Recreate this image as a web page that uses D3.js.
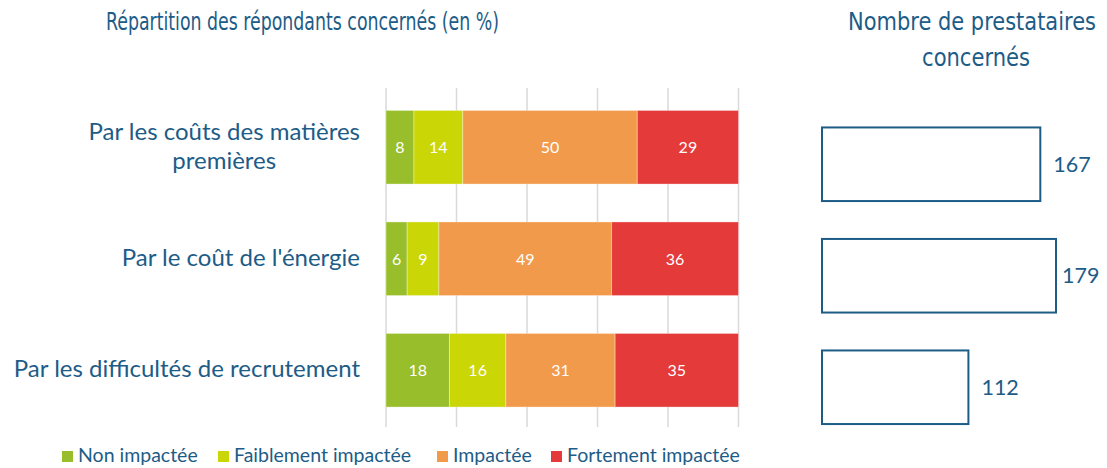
<!DOCTYPE html>
<html>
<head>
<meta charset="utf-8">
<script src="https://cdn.jsdelivr.net/npm/d3@7"></script>
<style>
  body { margin: 0; background: #fff; }
  svg { display: block; }
  .title { font-family: "DejaVu Sans", sans-serif; font-stretch: condensed; fill: #1d5c87; }
  .lbl { font-family: Lato, "Open Sans", sans-serif; fill: #1d5c87; }
</style>
</head>
<body>
<div id="chart"></div>
<script>
// categories, one array of lines each
var categories = [
	["Par les coûts des matières", "premières"],
	["Par le coût de l'énergie"],
	["Par les difficultés de recrutement"]
];
var seriesNames = ["Non impactée", "Faiblement impactée", "Impactée", "Fortement impactée"];
var nonImpactee = [8, 6, 18];
var faiblement = [14, 9, 16];
var impactee = [50, 49, 31];
var fortement = [29, 36, 35];
var prestataires = [167, 179, 112];
var xTicks = [0, 0.2, 0.4, 0.6, 0.8, 1];

var colors = ["#98be2b", "#cbd606", "#f29a4b", "#e53a3a"],
	textColor = "#1d5c87";

var width = 1107,
	height = 468,
	margin = {top: 88, bottom: 426, left: 386, right: 738.5};

var rows = categories.map(function(c, i) {
	return {cat: i, s0: nonImpactee[i], s1: faiblement[i], s2: impactee[i], s3: fortement[i]};
});

var stack = d3.stack()
	.keys(["s0", "s1", "s2", "s3"])
	.offset(d3.stackOffsetExpand);
var layers = stack(rows);

var xScale = d3.scaleLinear().domain([0, 1]).range([margin.left, margin.right]),
	yScale = d3.scaleBand().domain(d3.range(categories.length)).range([91.5, 426]).paddingInner(0.34).paddingOuter(0.17);

var xScale2 = d3.scaleLinear().domain([0, 179]).range([822, 1056]);

var svg = d3.select("#chart").append("svg")
	.attr("width", width)
	.attr("height", height);

// titles
var titles = [
	{t: "Répartition des répondants concernés (en %)", x: 302.5, y: 30, w: 393},
	{t: "Nombre de prestataires", x: 972, y: 30, w: 248},
	{t: "concernés", x: 976, y: 66, w: 108}
];
svg.append("g")
	.selectAll("text")
	.data(titles)
	.enter().append("text")
	.attr("class", "title")
	.attr("text-anchor", "middle")
	.style("font-size", "25.5px")
	.text(function(d) { return d.t; })
	.each(function(d) {
		// squeeze horizontally to the width of the condensed original font
		var sx = Math.min(1, d.w / this.getComputedTextLength());
		d3.select(this).attr("transform", "translate(" + d.x + "," + d.y + ") scale(" + sx + ",1)");
	});

// gridlines
svg.append("g")
	.selectAll("line")
	.data(xTicks)
	.enter().append("line")
	.attr("x1", function(d) { return xScale(d); })
	.attr("x2", function(d) { return xScale(d); })
	.attr("y1", 88)
	.attr("y2", 427)
	.attr("stroke", "#d9d9d9")
	.attr("stroke-width", 1.5);

// stacked bars
var layer = svg.append("g")
	.selectAll("g")
	.data(layers)
	.enter().append("g")
	.attr("fill", function(d, i) { return colors[i]; });

layer.selectAll("rect")
	.data(function(d) { return d; })
	.enter().append("rect")
	.attr("x", function(d) { return xScale(d[0]); })
	.attr("y", function(d) { return yScale(d.data.cat); })
	.attr("width", function(d) { return xScale(d[1]) - xScale(d[0]); })
	.attr("height", yScale.bandwidth())
	.attr("stroke", "#ffffff")
	.attr("stroke-opacity", 0.35)
	.attr("stroke-width", 1);

layer.each(function(l) {
	var key = l.key;
	d3.select(this).selectAll("text")
		.data(l)
		.enter().append("text")
		.attr("class", "lbl")
		.attr("x", function(d) { return (xScale(d[0]) + xScale(d[1])) / 2; })
		.attr("y", function(d) { return yScale(d.data.cat) + yScale.bandwidth() / 2; })
		.attr("dy", "0.36em")
		.attr("text-anchor", "middle")
		.style("fill", "#ffffff")
		.style("font-size", "16px")
		.text(function(d) { return d.data[key]; });
});

// category labels: lines centred on each other, longest line ends at 360
var catG = svg.append("g")
	.selectAll("text")
	.data(categories)
	.enter().append("text")
	.attr("class", "lbl")
	.style("font-size", "24px")
	.attr("text-anchor", "middle")
	.attr("y", function(d, i) { return yScale(i) + yScale.bandwidth() / 2; });

catG.selectAll("tspan")
	.data(function(d) { return d.map(function(t, j) { return {t: t, j: j, n: d.length}; }); })
	.enter().append("tspan")
	.attr("dy", function(d) { return d.j === 0 ? (0.3 - (d.n - 1) * 0.615) + "em" : "1.23em"; })
	.text(function(d) { return d.t; });

catG.each(function() {
	var t = d3.select(this),
		w = d3.max(t.selectAll("tspan").nodes(), function(n) { return n.getComputedTextLength(); });
	t.selectAll("tspan").attr("x", 360 - w / 2);
});

// prestataires bars
var yScale2 = function(i) { return yScale(i) + 17; };

svg.append("g")
	.selectAll("rect")
	.data(prestataires)
	.enter().append("rect")
	.attr("x", xScale2(0))
	.attr("y", function(d, i) { return yScale2(i); })
	.attr("width", function(d) { return xScale2(d) - xScale2(0); })
	.attr("height", yScale.bandwidth())
	.attr("fill", "#ffffff")
	.attr("stroke", "#1d5c87")
	.attr("stroke-width", 2);

svg.append("g")
	.selectAll("text")
	.data(prestataires)
	.enter().append("text")
	.attr("class", "lbl")
	.style("font-size", "21.5px")
	.attr("x", function(d) { return Math.min(xScale2(d) + 13, width - 45); })
	.attr("y", function(d, i) { return yScale2(i) + yScale.bandwidth() / 2; })
	.attr("dy", "0.36em")
	.text(function(d) { return d; });

// legend
var legendX = [62, 218, 437, 551];
var legend = svg.append("g")
	.selectAll("g")
	.data(seriesNames)
	.enter().append("g")
	.attr("transform", function(d, i) { return "translate(" + legendX[i] + ",451)"; });

legend.append("rect")
	.attr("width", 11)
	.attr("height", 11)
	.attr("fill", function(d, i) { return colors[i]; });

legend.append("text")
	.attr("class", "lbl")
	.attr("x", 16)
	.attr("y", 11)
	.style("font-size", "19.5px")
	.text(function(d) { return d; });
</script>
</body>
</html>
